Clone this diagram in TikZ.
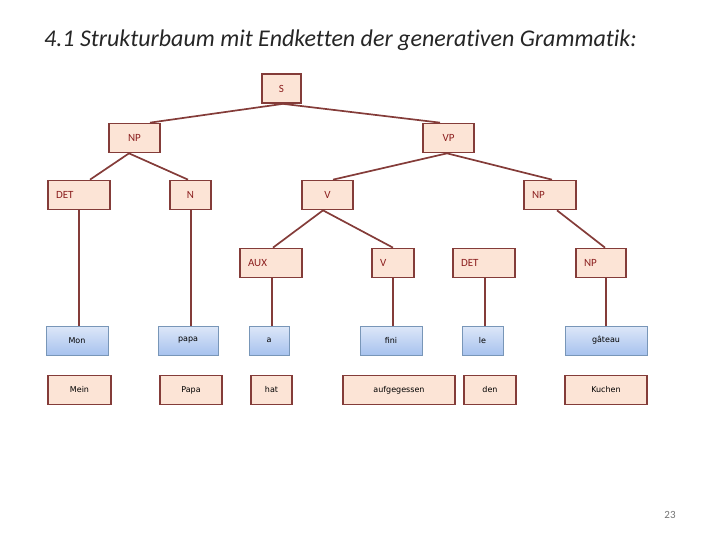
\documentclass[tikz,border=0pt]{standalone}
\usepackage{fontspec}
\setmainfont{Carlito}[Ligatures={NoCommon,NoContextual}]
\newfontfamily\wortfont{DejaVu Sans}
\definecolor{rand}{HTML}{843C39}
\definecolor{fuell}{HTML}{FCE4D6}
\definecolor{schrift}{HTML}{8B1E1E}
\definecolor{blaurand}{HTML}{7896B8}
\definecolor{blauoben}{HTML}{DDE7F8}
\definecolor{blauunten}{HTML}{A7C2EE}
\begin{document}
\begin{tikzpicture}[x=1pt, y=-1pt,
    kutu/.style={draw=rand, fill=fuell, line width=1.7pt, inner sep=0pt,
      minimum height=29, text=schrift, font=\fontsize{11}{13}\selectfont},
    links/.style={align=left, text width=#1, inner xsep=8pt},
    franz/.style={draw=blaurand, line width=0.7pt, top color=blauoben,
      bottom color=blauunten, inner sep=0pt, minimum height=29,
      font=\wortfont\fontsize{8}{9}\selectfont},
    wort/.style={kutu, font=\wortfont\fontsize{8}{9}\selectfont, text=black},
    ast/.style={draw=rand, line width=1.7pt}]
  \useasboundingbox (0,0) rectangle (720,540);

  % Titel
  \node[anchor=base west, font=\itshape\fontsize{24}{28}\selectfont,
    text=black!85, inner sep=0pt] (titel) at (44,47)
    {4.1 Strukturbaum mit Endketten der generativen Grammatik:};

  % obere Ebenen
  \node[kutu, minimum width=39] (S) at (281.5,88.5) {S};
  \node[kutu, minimum width=51] (NPa) at (134.5,138) {NP};
  \node[kutu, minimum width=51] (VP) at (448.5,138) {VP};
  \node[kutu, links=46] (DETa) at (79,195) {DET};
  \node[kutu, minimum width=41] (N) at (190.5,195) {N};
  \node[kutu, minimum width=51] (Va) at (327.5,195) {V};
  \node[kutu, links=36] (NPb) at (550,195) {NP};
  \node[kutu, links=46] (AUX) at (271,263) {AUX};
  \node[kutu, links=26] (Vb) at (393,263) {V};
  \node[kutu, links=46] (DETb) at (484,263) {DET};
  \node[kutu, links=34] (NPc) at (601,263) {NP};

  % franzoesische Endkette
  \node[franz, minimum width=62] (mon) at (77,340.5) {Mon};
  \node[franz, minimum width=60] (papa) at (188,340.5) {papa};
  \node[franz, minimum width=40] (a) at (269,340.5) {a};
  \node[franz, minimum width=62] (fini) at (391,340.5) {fini};
  \node[franz, minimum width=41] (le) at (482.5,340.5) {le};
  \node[franz, minimum width=82] (gateau) at (606,340.5) {gâteau};

  % deutsche Endkette
  \node[wort, minimum width=63] (mein) at (79.5,390) {Mein};
  \node[wort, minimum width=62] (Papa) at (191,390) {Papa};
  \node[wort, minimum width=41] (hat) at (271.5,390) {hat};
  \node[wort, minimum width=112] (auf) at (399,390) {aufgegessen};
  \node[wort, minimum width=52] (den) at (490,390) {den};
  \node[wort, minimum width=82] (kuchen) at (606,390) {Kuchen};

  % Aeste
  \draw[ast] ([xshift=1.5]S.south) -- ([xshift=15.5]NPa.north);
  \draw[ast] ([xshift=1.5]S.south) -- ([xshift=-8.5]VP.north);
  \draw[ast] ([xshift=-5.5]NPa.south) -- ([xshift=11]DETa.north);
  \draw[ast] ([xshift=-5.5]NPa.south) -- ([xshift=-2.5]N.north);
  \draw[ast] ([xshift=-1.5]VP.south) -- ([xshift=5.5]Va.north);
  \draw[ast] ([xshift=-1.5]VP.south) -- ([xshift=2]NPb.north);
  \draw[ast] ([xshift=-4.5]Va.south) -- ([xshift=2]AUX.north);
  \draw[ast] ([xshift=-4.5]Va.south) -- (Vb.north);
  \draw[ast] ([xshift=7]NPb.south) -- ([xshift=4]NPc.north);

  % senkrechte Linien zur Endkette
  \draw[ast] (DETa.south) -- (DETa.south |- mon.north);
  \draw[ast] ([xshift=0.5]N.south) -- ([xshift=0.5]N.south |- papa.north);
  \draw[ast] ([xshift=1]AUX.south) -- ([xshift=1]AUX.south |- a.north);
  \draw[ast] (Vb.south) -- (Vb.south |- fini.north);
  \draw[ast] ([xshift=1]DETb.south) -- ([xshift=1]DETb.south |- le.north);
  \draw[ast] ([xshift=5]NPc.south) -- ([xshift=5]NPc.south |- gateau.north);

  % Seitenzahl
  \node[text=black!55, font=\fontsize{11}{13}\selectfont] (seite) at (670,515) {23};
\end{tikzpicture}
\end{document}
